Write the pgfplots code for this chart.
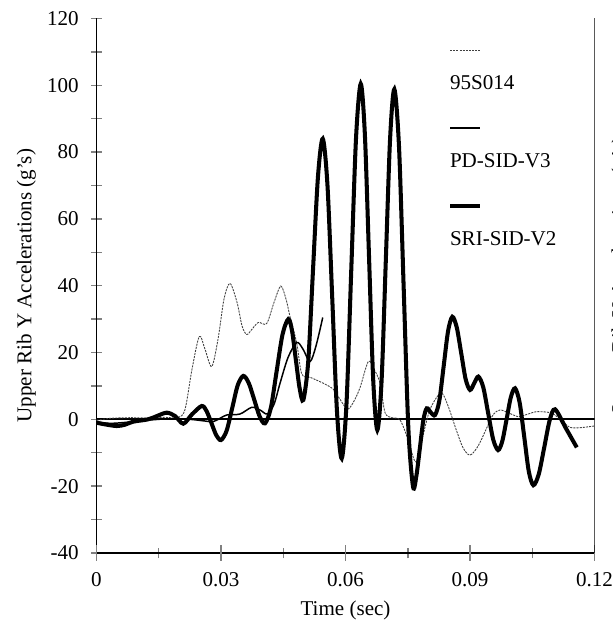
\documentclass[border=0pt]{standalone}
\usepackage{fontspec}
\setmainfont{Liberation Serif}
\usepackage{pgfplots}
\pgfplotsset{compat=1.18}
\begin{document}
\fontsize{12}{14}\selectfont
\begin{tikzpicture}
\begin{axis}[
  scale only axis, width=283.9pt, height=304.7pt,
  xmin=0, xmax=0.12, ymin=-40, ymax=120,
  axis x line*=bottom, axis y line*=left,
  axis line style={black, line width=1.1pt},
  tick align=center,
  tick style={black!50, line width=0.8pt},
  major tick length=6pt,
  xtick={0.015,0.045,0.075,0.105},
  xticklabels={},
  extra x ticks={0,0.03,0.06,0.09,0.12},
  extra x tick labels={0,0.03,0.06,0.09,0.12},
  extra x tick style={major tick length=9pt},
  xticklabel style={yshift=-2.3pt},
  ytick={-40,-30,...,120},
  yticklabels={-40,{},-20,{},0,{},20,{},40,{},60,{},80,{},100,{},120},
  yticklabel style={xshift=-3pt},
  scaled x ticks=false,
  xlabel={Time (sec)},
  ylabel={Upper Rib Y Accelerations (g's)},
  x label style={at={(axis description cs:0.5,0)}, anchor=center, yshift=-33pt},
  y label style={at={([xshift=-40pt]axis description cs:0,0.5)}, anchor=center},
  legend cell align=left,
  legend style={draw=none, fill=none, at={(axis description cs:0.7098,0.8924)}, anchor=north west,
    inner sep=0pt, outer sep=0pt, row sep=36.2pt, column sep=0pt,
    nodes={inner sep=0pt, text height=8pt, text depth=0pt}},
  legend image code/.code={\draw[#1,overlay] (0pt,18.4pt) -- (17.1pt,18.4pt);},
]
\coordinate (SW) at (rel axis cs:0,0);
\coordinate (SE) at (rel axis cs:1,0);
\coordinate (NE) at (rel axis cs:1,1);
\draw[black, line width=1.1pt] (rel axis cs:1,0) -- (rel axis cs:1,1);
\addplot[black, line width=1pt, forget plot] coordinates {(0,0) (0.12,0)};

\addplot[black!75, line width=0.5pt, dash pattern=on 1.2pt off 0.6pt, smooth] coordinates {
(0,-0.3) (0.00325,0.3) (0.00807,0.5) (0.01289,0.4) (0.01651,0.6) (0.01964,0.5) (0.02133,3)
(0.02301,15) (0.02477,24.8) (0.02614,21) (0.02776,15.8) (0.02928,24) (0.03072,36) (0.03217,40.7)
(0.03386,35) (0.03506,28) (0.03619,25.4) (0.03747,27) (0.03899,29) (0.04101,28.7) (0.04277,35)
(0.04439,39.9) (0.04566,36) (0.04663,30.7) (0.04824,22.8) (0.04945,13.6) (0.05145,12.6) (0.05465,10.8)
(0.05706,9) (0.05867,6) (0.06048,3) (0.06205,5.5) (0.06349,9.5) (0.06549,17.3) (0.06687,15)
(0.06831,10.8) (0.06952,2) (0.0712,0.5) (0.07313,-0.2) (0.07506,-6) (0.07687,-12.7) (0.07843,-6)
(0.08036,3) (0.08301,7.9) (0.0847,4) (0.08663,-3) (0.08831,-8.5) (0.09,-10.7) (0.09193,-8)
(0.09386,-3) (0.09561,1.5) (0.09723,2.8) (0.09916,2) (0.10164,0.8) (0.10373,1.5) (0.10607,2.3)
(0.10928,2) (0.11096,0.8) (0.11241,-0.7) (0.1141,-2.4) (0.11651,-2.5) (0.11988,-2)
};
\addlegendentry{95S014}

\addplot[black, line width=0.85pt, smooth] coordinates {
(0,-0.7) (0.00325,-1.2) (0.00807,-0.8) (0.01289,-0.2) (0.01771,0.2) (0.02253,0) (0.02614,-0.5)
(0.02807,-0.7) (0.02976,0.3) (0.03137,1.3) (0.03458,1.6) (0.0374,3.6) (0.0394,2.8) (0.04116,1.6)
(0.04277,4.5) (0.04422,10.8) (0.04614,18.5) (0.04824,23) (0.04976,21) (0.05145,17.3) (0.05289,22)
(0.05451,30.5)
};
\addlegendentry{PD-SID-V3}

\addplot[black, line width=2.3pt, smooth] coordinates {
(0,-1) (0.00205,-1.5) (0.00487,-2) (0.00687,-1.6) (0.0088,-0.7) (0.01241,0) (0.01458,1) (0.01692,2)
(0.01892,1) (0.02092,-1.3) (0.02301,1.5) (0.02535,4) (0.02651,2.5) (0.02769,-1.1) (0.02884,-4.7)
(0.030,-6.2) (0.03135,-3.4) (0.0327,3.4) (0.03402,10.2) (0.03537,13) (0.03667,10.9) (0.038,5.9)
(0.0393,0.9) (0.0406,-1.2) (0.042,3.4) (0.0434,14.4) (0.04482,25.4) (0.04622,30) (0.04711,26.5)
(0.04802,17.9) (0.04894,9.3) (0.04983,5.8) (0.05101,17.3) (0.05217,44.9) (0.05335,72.5) (0.05451,84)
(0.05565,70) (0.0568,36.2) (0.05794,2.3) (0.05908,-11.7) (0.06023,4.7) (0.06137,44.4) (0.06252,84)
(0.06366,100.4) (0.06466,85.2) (0.06566,48.6) (0.06666,12) (0.06766,-3.2) (0.06869,11.7) (0.06971,47.8)
(0.07073,83.9) (0.07176,98.8) (0.07289,81.4) (0.07401,39.3) (0.07514,-2.8) (0.07627,-20.2) (0.07708,-16.8)
(0.07792,-8.5) (0.07875,-0.2) (0.07957,3.3) (0.0806,2) (0.08157,1.3) (0.0826,5.6) (0.08365,16)
(0.0847,26.4) (0.08573,30.7) (0.0868,27.5) (0.08787,19.8) (0.08894,12) (0.09,8.8) (0.091,10.8)
(0.092,12.8) (0.09318,9.6) (0.09437,1.8) (0.09557,-6) (0.09675,-9.2) (0.09777,-6.5) (0.0988,0)
(0.09982,6.6) (0.10084,9.3) (0.10195,5) (0.10305,-5.2) (0.10414,-15.5) (0.10525,-19.7) (0.10655,-16.4)
(0.10787,-8.4) (0.10918,-0.3) (0.11048,3) (0.1131,-2.7) (0.11571,-8.4)
};
\addlegendentry{SRI-SID-V2}
\end{axis}
\node[rotate=90, anchor=north, inner sep=0pt] at ([xshift=9.4pt,yshift=158.5pt]SE) {Lower Rib Y Accelerations (g's)};
\pgfresetboundingbox
\path[use as bounding box] ([xshift=-55pt,yshift=-45.6pt]SW) rectangle ([xshift=10.5pt,yshift=10.5pt]NE);
\end{tikzpicture}
\end{document}
